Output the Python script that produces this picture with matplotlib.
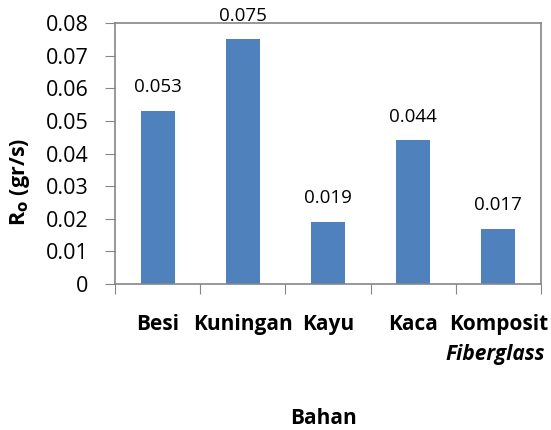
import numpy as np
import matplotlib.pyplot as plt

# material and measured rate values
bahan = ['Besi', 'Kuningan', 'Kayu', 'Kaca', 'Komposit']
ro = [0.053, 0.075, 0.019, 0.044, 0.017]
yticks = [0, 0.01, 0.02, 0.03, 0.04, 0.05, 0.06, 0.07, 0.08]

plt.rcParams['font.family'] = ['Open Sans', 'DejaVu Sans']

fig = plt.figure(figsize=(5.51, 4.30), dpi=100)
ax = fig.add_axes([115/551, 1-284/430, (541-115)/551, (284-23)/430])

x = np.arange(len(bahan))
bars = ax.bar(x, ro, width=0.4, color='#4F81BD', zorder=2)

for xi, v in zip(x, ro):
    ax.text(xi, v + 0.0045, '%.3f' % v, ha='center', va='bottom', fontsize=13.5)

ax.set_xlim(-0.5, len(bahan) - 0.5)
ax.set_ylim(0, 0.08)
ax.set_yticks(yticks)
ax.set_yticklabels(['0'] + ['%.2f' % t for t in yticks[1:]], fontsize=15.5)
ax.set_xticks(np.arange(-0.5, len(bahan)))
ax.set_xticklabels([])
ax.tick_params(axis='y', length=7, color='#868686', pad=12)
ax.tick_params(axis='x', length=7, color='#868686')

for s in ax.spines.values():
    s.set_color('#868686')
    s.set_linewidth(1.2)

# category names under the axis
for xi, name in zip(x, bahan):
    ax.text(xi, -0.0125, name, ha='center', va='center', fontsize=15,
            fontweight='bold', clip_on=False)
ax.text(4.55, -0.0215, 'Fiberglass', ha='right', va='center', fontsize=15,
        fontweight='bold', style='italic', clip_on=False)

fig.text(323/551, 1-418/430, 'Bahan', ha='center', va='center',
         fontsize=15, fontweight='bold')
fig.text(20/551, 1-182/430, r'R$_\mathbf{o}$ (gr/s)', ha='center', va='center',
         rotation=90, fontsize=15.5, fontweight='bold')

fig.savefig('out.png', dpi=100)
